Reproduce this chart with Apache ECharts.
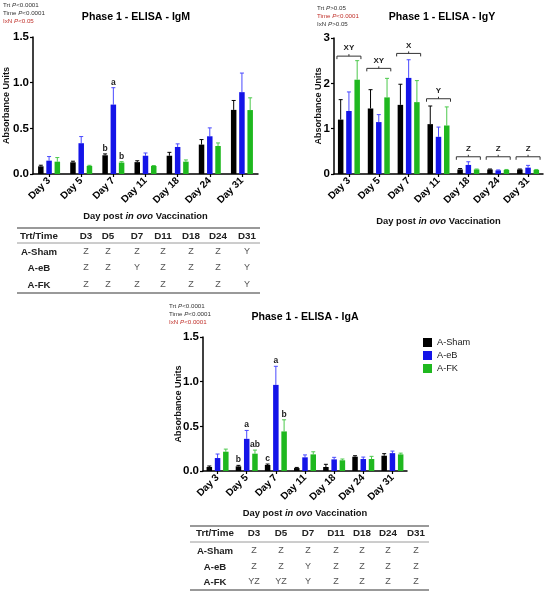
<!DOCTYPE html>
<html>
<head>
<meta charset="utf-8">
<script src="https://cdn.jsdelivr.net/npm/echarts@6/dist/echarts.min.js"></script>
<style>
  html, body { margin: 0; padding: 0; background: #fff; }
  #charts { width: 550px; height: 595px; }
</style>
</head>
<body>
<div id="charts"></div>
<script>
const days = ["Day 3", "Day 5", "Day 7", "Day 11", "Day 18", "Day 24", "Day 31"];
const groups = ["A-Sham", "A-eB", "A-FK"];
const tableCols = ["Trt/Time", "D3", "D5", "D7", "D11", "D18", "D24", "D31"];

// IgM
const igmSham = [0.084, 0.128, 0.205, 0.13, 0.2, 0.322, 0.702];
const igmShamErr = [0.012, 0.012, 0.015, 0.015, 0.037, 0.055, 0.103];
const igmEB = [0.146, 0.337, 0.76, 0.2, 0.296, 0.413, 0.896];
const igmEBErr = [0.045, 0.073, 0.185, 0.03, 0.034, 0.092, 0.209];
const igmFK = [0.135, 0.088, 0.125, 0.088, 0.135, 0.307, 0.7];
const igmFKErr = [0.045, 0.007, 0.01, 0.005, 0.019, 0.033, 0.134];
const igmShamLetters = ["", "", "b", "", "", "", ""];
const igmEBLetters = ["", "", "a", "", "", "", ""];
const igmFKLetters = ["", "", "b", "", "", "", ""];
const igmPvals = [["Trt ", "P<0.0001"], ["Time ", "P<0.0001"], ["IxN ", "P<0.05"]];
const igmTable = [
  ["A-Sham", "Z", "Z", "Z", "Z", "Z", "Z", "Y"],
  ["A-eB", "Z", "Z", "Y", "Z", "Z", "Z", "Y"],
  ["A-FK", "Z", "Z", "Z", "Z", "Z", "Z", "Y"]
];

// IgY
const igySham = [1.2, 1.445, 1.525, 1.1, 0.1, 0.1, 0.1];
const igyShamErr = [0.44, 0.415, 0.455, 0.4, 0.02, 0.01, 0.01];
const igyEB = [1.39, 1.145, 2.12, 0.82, 0.2, 0.08, 0.14];
const igyEBErr = [0.42, 0.165, 0.4, 0.215, 0.07, 0.01, 0.05];
const igyFK = [2.08, 1.69, 1.585, 1.07, 0.1, 0.09, 0.09];
const igyFKErr = [0.42, 0.42, 0.475, 0.41, 0.01, 0.01, 0.01];
const igyBracketY = [2.6, 2.33, 2.66, 1.66, 0.38, 0.38, 0.38];
const igyBracketText = ["XY", "XY", "X", "Y", "Z", "Z", "Z"];
const igyPvals = [["Trt ", "P>0.05"], ["Time ", "P<0.0001"], ["IxN ", "P>0.05"]];

// IgA
const igaSham = [0.045, 0.052, 0.067, 0.033, 0.045, 0.16, 0.171];
const igaShamErr = [0.011, 0.011, 0.011, 0.007, 0.03, 0.011, 0.023];
const igaEB = [0.145, 0.36, 0.964, 0.153, 0.13, 0.134, 0.2];
const igaEBErr = [0.045, 0.094, 0.208, 0.027, 0.023, 0.022, 0.023];
const igaFK = [0.216, 0.194, 0.443, 0.186, 0.12, 0.134, 0.186];
const igaFKErr = [0.029, 0.04, 0.13, 0.029, 0.014, 0.03, 0.014];
const igaShamLetters = ["", "b", "c", "", "", "", ""];
const igaEBLetters = ["", "a", "a", "", "", "", ""];
const igaFKLetters = ["", "ab", "b", "", "", "", ""];
const igaPvals = [["Trt ", "P<0.0001"], ["Time ", "P<0.0001"], ["IxN ", "P<0.0001"]];
const igaTable = [
  ["A-Sham", "Z", "Z", "Z", "Z", "Z", "Z", "Z"],
  ["A-eB", "Z", "Z", "Y", "Z", "Z", "Z", "Z"],
  ["A-FK", "YZ", "YZ", "Y", "Z", "Z", "Z", "Z"]
];

const FONT = "Liberation Sans, Arial, sans-serif";
const barColors = ["#000000", "#1414e8", "#1fb81f"];
const errColors = ["#000000", "#4a4aff", "#4cc94c"];
const BAR_W = 5.5;
const BAR_STEP = BAR_W * 1.5;

const chart = echarts.init(document.getElementById("charts"));

function xAxisFor(gridIndex, nameGap) {
  return {
    type: "category",
    gridIndex: gridIndex,
    data: days,
    axisLine: { lineStyle: { color: "#000", width: 1.5 } },
    axisTick: { show: true, alignWithLabel: true, length: 3, lineStyle: { color: "#000", width: 1.2 } },
    axisLabel: { rotate: 45, interval: 0, fontFamily: FONT, fontWeight: "bold", fontSize: 10, color: "#000", margin: 5 },
    name: "{b|Day post }{i|in ovo}{b| Vaccination}",
    nameLocation: "middle",
    nameGap: nameGap,
    nameMoveOverlap: false,
    nameTextStyle: {
      rich: {
        b: { fontFamily: FONT, fontWeight: "bold", fontSize: 9.4, color: "#111" },
        i: { fontFamily: FONT, fontWeight: "bold", fontStyle: "italic", fontSize: 9.4, color: "#111" }
      }
    }
  };
}

function yAxisFor(gridIndex, max, interval, digits, nameGap) {
  return {
    type: "value",
    gridIndex: gridIndex,
    min: 0,
    max: max,
    interval: interval,
    axisLine: { show: true, lineStyle: { color: "#000", width: 1.5 } },
    axisTick: { show: true, length: 3, lineStyle: { color: "#000", width: 1.2 } },
    splitLine: { show: false },
    axisLabel: {
      fontFamily: FONT, fontWeight: "bold", fontSize: 11.5, color: "#000", margin: 4,
      formatter: v => v.toFixed(digits)
    },
    name: "Absorbance Units",
    nameLocation: "middle",
    nameRotate: 90,
    nameGap: nameGap,
    nameMoveOverlap: false,
    nameTextStyle: { fontFamily: FONT, fontWeight: "bold", fontSize: 9, color: "#111" }
  };
}

function barSeries(gridIndex, k, values) {
  return {
    type: "bar",
    name: groups[k],
    xAxisIndex: gridIndex,
    yAxisIndex: gridIndex,
    data: values,
    barWidth: BAR_W,
    barGap: "50%",
    itemStyle: { color: barColors[k] },
    silent: true
  };
}

// error bar (upward only, with cap) plus significance letter
function errorSeries(gridIndex, k, values, errs, letters) {
  return {
    type: "custom",
    xAxisIndex: gridIndex,
    yAxisIndex: gridIndex,
    data: values.map((v, i) => [i, v, errs[i]]),
    encode: { x: 0, y: 1 },
    silent: true,
    renderItem: function (params, api) {
      const i = api.value(0);
      const base = api.coord([i, api.value(1)]);
      const top = api.coord([i, api.value(1) + api.value(2)]);
      const x = base[0] + (k - 1) * BAR_STEP;
      const children = [
        { type: "line", shape: { x1: x, y1: base[1], x2: x, y2: top[1] }, style: { stroke: errColors[k], lineWidth: 1 } },
        { type: "line", shape: { x1: x - 2, y1: top[1], x2: x + 2, y2: top[1] }, style: { stroke: errColors[k], lineWidth: 1 } }
      ];
      const txt = letters ? letters[i] : "";
      if (txt) {
        children.push({
          type: "text",
          style: {
            text: txt, x: x, y: top[1] - 1, align: "center", verticalAlign: "bottom",
            font: "bold 8.5px " + FONT, fill: "#222"
          }
        });
      }
      return { type: "group", children: children };
    }
  };
}

function bracketSeries(gridIndex, ys, texts) {
  return {
    type: "custom",
    xAxisIndex: gridIndex,
    yAxisIndex: gridIndex,
    data: ys.map((y, i) => [i, y]),
    encode: { x: 0, y: 1 },
    silent: true,
    renderItem: function (params, api) {
      const p = api.coord([api.value(0), api.value(1)]);
      const x = p[0], y = p[1], h = 12;
      const st = { stroke: "#333", lineWidth: 1 };
      return {
        type: "group",
        children: [
          { type: "line", shape: { x1: x - h, y1: y, x2: x + h, y2: y }, style: st },
          { type: "line", shape: { x1: x - h, y1: y, x2: x - h, y2: y + 3 }, style: st },
          { type: "line", shape: { x1: x + h, y1: y, x2: x + h, y2: y + 3 }, style: st },
          { type: "line", shape: { x1: x, y1: y, x2: x, y2: y - 2 }, style: st },
          {
            type: "text",
            style: {
              text: texts[params.dataIndex], x: x, y: y - 4, align: "center", verticalAlign: "bottom",
              font: "bold 8px " + FONT, fill: "#222"
            }
          }
        ]
      };
    }
  };
}

function pvalText(x, y0, lines, redIndex) {
  return lines.map((ln, j) => ({
    type: "text",
    left: x,
    top: y0 + j * 8.2,
    style: {
      text: "{n|" + ln[0] + "}{i|" + ln[1].charAt(0) + "}{n|" + ln[1].slice(1) + "}",
      rich: {
        n: { fontFamily: FONT, fontSize: 6.2, fill: j === redIndex ? "#c0302a" : "#333" },
        i: { fontFamily: FONT, fontSize: 6.2, fontStyle: "italic", fill: j === redIndex ? "#c0302a" : "#333" }
      }
    }
  }));
}

function titleText(cx, cy, str) {
  return {
    type: "text",
    x: cx,
    y: cy,
    style: { text: str, align: "center", verticalAlign: "middle", font: "bold 10.6px " + FONT, fill: "#000" }
  };
}

function tableGraphics(colX, rowY, lineY, x1, x2, rows) {
  const out = [];
  lineY.forEach((ly, j) => {
    out.push({
      type: "line",
      shape: { x1: x1, y1: ly, x2: x2, y2: ly },
      style: { stroke: j === 1 ? "#9a9a9a" : "#777", lineWidth: j === 1 ? 1 : 1.5 }
    });
  });
  tableCols.forEach((c, i) => {
    out.push({
      type: "text", x: colX[i], y: rowY[0],
      style: { text: c, align: "center", verticalAlign: "middle", font: "bold 9.8px " + FONT, fill: "#222" }
    });
  });
  rows.forEach((r, ri) => {
    r.forEach((cell, i) => {
      out.push({
        type: "text", x: colX[i], y: rowY[ri + 1],
        style: {
          text: cell, align: "center", verticalAlign: "middle",
          font: (i === 0 ? "bold 9.6px " : "9px ") + FONT, fill: i === 0 ? "#222" : "#555"
        }
      });
    });
  });
  return out;
}

const graphics = [].concat(
  [titleText(136, 17, "Phase 1 - ELISA - IgM"),
   titleText(442, 17, "Phase 1 - ELISA - IgY"),
   titleText(305, 317, "Phase 1 - ELISA - IgA")],
  pvalText(3, 2, igmPvals, 2),
  pvalText(317, 5, igyPvals, 1),
  pvalText(169, 303, igaPvals, 2),
  tableGraphics([39, 86, 108, 137, 163, 191, 218, 247], [236, 252, 268, 285], [228, 243, 293], 17, 260, igmTable),
  tableGraphics([215, 254, 281, 308, 336, 362, 388, 416], [533, 551, 567, 582], [526, 542, 590], 190, 429, igaTable)
);

const option = {
  animation: false,
  backgroundColor: "#fff",
  textStyle: { fontFamily: FONT },
  legend: {
    data: groups,
    orient: "vertical",
    left: 423,
    top: 338,
    padding: 0,
    itemWidth: 9,
    itemHeight: 9,
    itemGap: 4,
    icon: "rect",
    selectedMode: false,
    textStyle: { fontFamily: FONT, fontSize: 9.2, color: "#222" }
  },
  grid: [
    { left: 33, top: 37, width: 225, height: 137 },
    { left: 334, top: 38, width: 209, height: 136 },
    { left: 203, top: 337, width: 204, height: 134 }
  ],
  xAxis: [xAxisFor(0, 38), xAxisFor(1, 43), xAxisFor(2, 38)],
  yAxis: [yAxisFor(0, 1.5, 0.5, 1, 22), yAxisFor(1, 3, 1, 0, 11), yAxisFor(2, 1.5, 0.5, 1, 20)],
  series: [
    barSeries(0, 0, igmSham), barSeries(0, 1, igmEB), barSeries(0, 2, igmFK),
    errorSeries(0, 0, igmSham, igmShamErr, igmShamLetters),
    errorSeries(0, 1, igmEB, igmEBErr, igmEBLetters),
    errorSeries(0, 2, igmFK, igmFKErr, igmFKLetters),

    barSeries(1, 0, igySham), barSeries(1, 1, igyEB), barSeries(1, 2, igyFK),
    errorSeries(1, 0, igySham, igyShamErr, null),
    errorSeries(1, 1, igyEB, igyEBErr, null),
    errorSeries(1, 2, igyFK, igyFKErr, null),
    bracketSeries(1, igyBracketY, igyBracketText),

    barSeries(2, 0, igaSham), barSeries(2, 1, igaEB), barSeries(2, 2, igaFK),
    errorSeries(2, 0, igaSham, igaShamErr, igaShamLetters),
    errorSeries(2, 1, igaEB, igaEBErr, igaEBLetters),
    errorSeries(2, 2, igaFK, igaFKErr, igaFKLetters)
  ],
  graphic: graphics
};

chart.setOption(option);
</script>
</body>
</html>
